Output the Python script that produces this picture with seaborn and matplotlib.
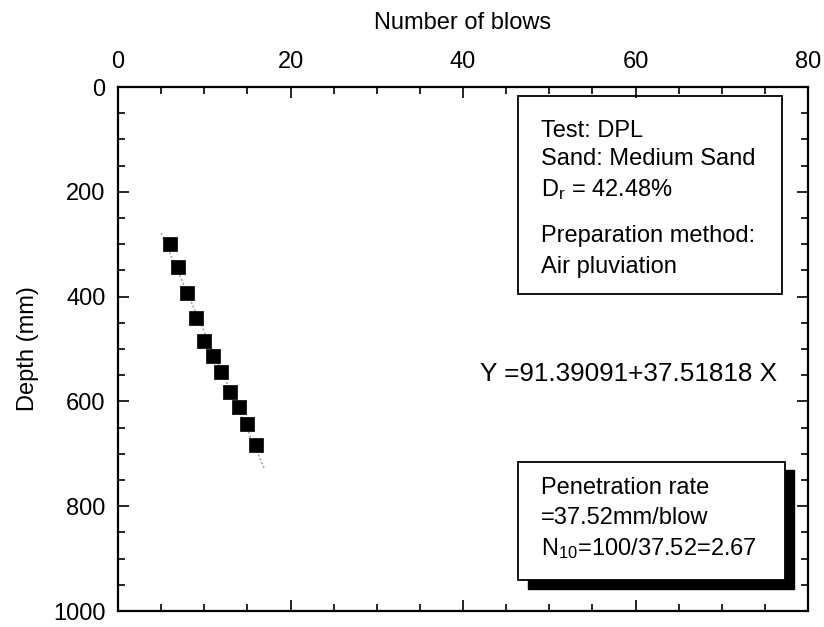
import numpy as np
import pandas as pd
import matplotlib
matplotlib.use("Agg")
import matplotlib.pyplot as plt
from matplotlib.patches import Rectangle
from matplotlib.ticker import MultipleLocator
import seaborn as sns

# Measured penetration record
blows = [6, 7, 8, 9, 10, 11, 12, 13, 14, 15, 16]
depth_mm = [300, 343, 393, 440, 485, 513, 543, 582, 611, 644, 684]

# Linear fit: depth = intercept + slope * blows
intercept = 91.39091
slope = 37.51818
fit_blows = [5, 17]

x_ticks = [0, 20, 40, 60, 80]
y_ticks = [0, 200, 400, 600, 800, 1000]

info_lines = ["Test: DPL", "Sand: Medium Sand", r"D$_\mathregular{r}$ = 42.48%",
              "Preparation method:", "Air pluviation"]
rate_lines = ["Penetration rate", "=37.52mm/blow",
              r"N$_\mathregular{10}$=100/37.52=2.67"]

sns.set_theme(style="ticks")
plt.rcParams["font.family"] = ["Liberation Sans", "DejaVu Sans"]
plt.rcParams["mathtext.fontset"] = "custom"
plt.rcParams["mathtext.rm"] = "Liberation Sans"
plt.rcParams["mathtext.it"] = "Liberation Sans"
for key in ["text.color", "axes.labelcolor", "xtick.color", "ytick.color",
            "axes.edgecolor"]:
    plt.rcParams[key] = "black"

fig = plt.figure(figsize=(8.24, 6.27), dpi=100)
ax = fig.add_axes([0.1432, 0.0255, 0.8374, 0.8357])

df = pd.DataFrame({"blows": blows, "depth": depth_mm})
fit_df = pd.DataFrame({"blows": fit_blows,
                       "depth": [intercept + slope * b for b in fit_blows]})

sns.lineplot(data=fit_df, x="blows", y="depth", ax=ax, color="#9a9a9a",
             linewidth=1.0, linestyle=(0, (1.5, 1.5)), zorder=2)
sns.scatterplot(data=df, x="blows", y="depth", ax=ax, marker="s", s=90,
                color="black", edgecolor="black", linewidth=0.5, zorder=3)

ax.set_xlim(0, 80)
ax.set_ylim(1000, 0)
ax.set_xticks(x_ticks)
ax.set_yticks(y_ticks)
ax.xaxis.set_minor_locator(MultipleLocator(5))
ax.yaxis.set_minor_locator(MultipleLocator(50))
ax.xaxis.tick_top()
ax.xaxis.set_label_position("top")
ax.tick_params(which="both", direction="in", top=True, bottom=True,
               left=True, right=True, labelbottom=False, labelright=False,
               labeltop=True, labelleft=True, width=1.2, color="black")
ax.tick_params(which="major", length=8, labelsize=17)
ax.tick_params(axis="x", which="major", pad=10)
ax.tick_params(axis="y", which="major", pad=9)
ax.tick_params(which="minor", length=5)
for sp in ax.spines.values():
    sp.set_linewidth(1.6)
    sp.set_color("black")

ax.set_xlabel("Number of blows", fontsize=17, labelpad=16)
ax.set_ylabel("Depth (mm)", fontsize=17, labelpad=10)

# Specimen description box
ax.add_patch(Rectangle((46.4, 395), 30.6, -378, fill=False, edgecolor="black",
                       linewidth=1.3, zorder=4))
for i, line in enumerate(info_lines):
    yy = [84, 137, 196, 285, 344][i]
    ax.text(49.0, yy, line, fontsize=17, va="center", ha="left", zorder=5)

# Penetration rate box with drop shadow
ax.add_patch(Rectangle((47.5, 958), 30.9, -228, facecolor="black",
                       edgecolor="black", zorder=3))
ax.add_patch(Rectangle((46.4, 941), 30.9, -225, facecolor="white",
                       edgecolor="black", linewidth=1.3, zorder=4))
for i, line in enumerate(rate_lines):
    yy = [766, 823, 880][i]
    ax.text(49.0, yy, line, fontsize=17, va="center", ha="left", zorder=5)

ax.text(42.0, 548, f"Y ={intercept:.5f}+{slope:.5f} X", fontsize=18.8,
        va="center", ha="left", zorder=5)

fig.savefig("out.png", dpi=100, facecolor="white")
